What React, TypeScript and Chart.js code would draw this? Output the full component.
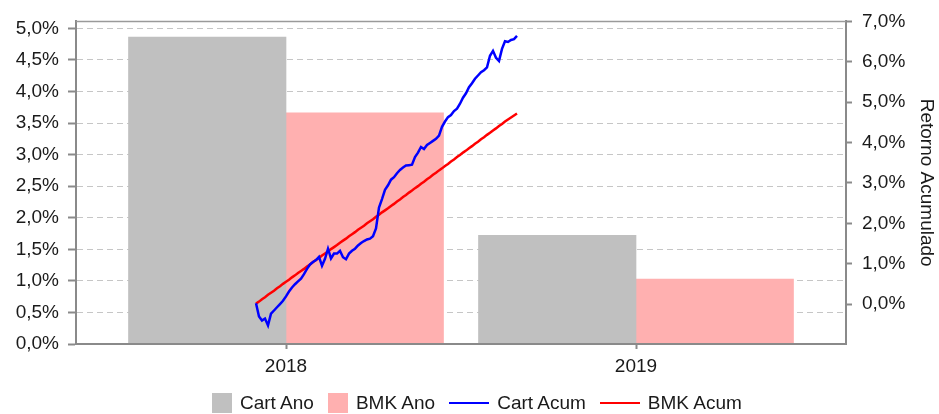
import React, { useEffect, useRef } from 'react';
import { Chart, registerables } from 'chart.js';

Chart.register(...registerables);

// ---- data ----
const years = ['2018', '2019'];
const cartAno = [4.86, 1.72];
const bmkAno = [3.66, 1.03];

const cartAcum = [
  0.02, -0.31, -0.41, -0.36, -0.53, -0.24, -0.16, -0.08, 0.0, 0.08,
  0.19, 0.31, 0.41, 0.49, 0.56, 0.63, 0.74, 0.87, 0.98, 1.04,
  1.09, 1.17, 0.95, 1.12, 1.37, 1.13, 1.25, 1.25, 1.32, 1.16,
  1.11, 1.25, 1.32, 1.37, 1.45, 1.51, 1.56, 1.6, 1.62, 1.68,
  1.87, 2.39, 2.6, 2.83, 2.94, 3.08, 3.14, 3.24, 3.32, 3.38,
  3.43, 3.44, 3.45, 3.64, 3.75, 3.89, 3.84, 3.94, 3.99, 4.04,
  4.09, 4.17, 4.39, 4.52, 4.63, 4.68, 4.78, 4.84, 4.96, 5.11,
  5.22, 5.37, 5.47, 5.58, 5.66, 5.74, 5.79, 5.86, 6.15, 6.27,
  6.1, 6.02, 6.32, 6.51, 6.49, 6.54, 6.56, 6.64,
];

const bmkAcum = [
  0.01, 0.06, 0.12, 0.17, 0.23, 0.28, 0.33, 0.39, 0.44, 0.5,
  0.55, 0.6, 0.66, 0.71, 0.77, 0.82, 0.87, 0.93, 0.98, 1.04,
  1.09, 1.14, 1.2, 1.25, 1.3, 1.36, 1.41, 1.46, 1.52, 1.57,
  1.62, 1.68, 1.73, 1.78, 1.84, 1.89, 1.94, 2.0, 2.05, 2.1,
  2.16, 2.21, 2.27, 2.32, 2.37, 2.43, 2.48, 2.54, 2.59, 2.65,
  2.7, 2.76, 2.81, 2.87, 2.92, 2.98, 3.03, 3.09, 3.14, 3.2,
  3.25, 3.31, 3.36, 3.42, 3.47, 3.53, 3.58, 3.64, 3.69, 3.75,
  3.8, 3.86, 3.91, 3.97, 4.02, 4.08, 4.13, 4.19, 4.24, 4.3,
  4.35, 4.41, 4.46, 4.52, 4.57, 4.62, 4.67, 4.72,
];

const legendLabels = ['Cart Ano', 'BMK Ano', 'Cart Acum', 'BMK Acum'];
const rightTitle = 'Retorno Acumulado';

const GRAY = '#c0c0c0';
const PINK = '#ffb0b0';
const BLUE = '#0000ff';
const RED = '#ff0000';
const AXIS = '#8a8a8a';
const FONT = "'Liberation Sans', Arial, sans-serif";
const FS = 19;

const pct = (v: number) => v.toFixed(1).replace('.', ',') + '%';

const topBorder = {
  id: 'topBorder',
  afterDraw(chart: any) {
    const { ctx, chartArea } = chart;
    ctx.save();
    ctx.strokeStyle = '#9a9a9a';
    ctx.lineWidth = 1.5;
    ctx.beginPath();
    ctx.moveTo(chartArea.left, chartArea.top);
    ctx.lineTo(chartArea.right, chartArea.top);
    ctx.stroke();
    ctx.restore();
  },
};

export default function App() {
  const ref = useRef<HTMLCanvasElement | null>(null);

  useEffect(() => {
    if (!ref.current) return;
    Chart.defaults.font.family = FONT;
    Chart.defaults.font.size = FS;
    Chart.defaults.color = '#1a1a1a';

    const chart = new Chart(ref.current, {
      type: 'bar',
      data: {
        datasets: [
          {
            type: 'line',
            label: legendLabels[2],
            data: cartAcum.map((v, i) => ({ x: i, y: v })),
            borderColor: BLUE,
            borderWidth: 2.5,
            pointRadius: 0,
            tension: 0,
            xAxisID: 'xl',
            yAxisID: 'y1',
            order: 0,
          } as any,
          {
            type: 'line',
            label: legendLabels[3],
            data: bmkAcum.map((v, i) => ({ x: i, y: v })),
            borderColor: RED,
            borderWidth: 2.5,
            pointRadius: 0,
            tension: 0,
            xAxisID: 'xl',
            yAxisID: 'y1',
            order: 1,
          } as any,
          {
            type: 'bar',
            label: legendLabels[0],
            data: cartAno.map((v, i) => ({ x: i, y: v })),
            backgroundColor: GRAY,
            xAxisID: 'x',
            yAxisID: 'y',
            barThickness: 157.5,
            order: 2,
          } as any,
          {
            type: 'bar',
            label: legendLabels[1],
            data: bmkAno.map((v, i) => ({ x: i, y: v })),
            backgroundColor: PINK,
            xAxisID: 'x',
            yAxisID: 'y',
            barThickness: 157.5,
            order: 3,
          } as any,
        ],
      },
      options: {
        animation: false,
        responsive: false,
        maintainAspectRatio: false,
        layout: { padding: { top: 15, left: 0, right: 0, bottom: 0 } },
        plugins: {
          legend: { display: false },
          tooltip: { enabled: false },
        },
        scales: {
          x: {
            type: 'linear',
            position: 'bottom',
            offset: false,
            min: -0.6,
            max: 1.6,
            afterBuildTicks: (axis: any) => {
              axis.ticks = years.map((_, i) => ({ value: i }));
            },
            afterFit: (axis: any) => {
              axis.height = 70;
            },
            ticks: {
              callback: (v: any) => years[v] ?? '',
              padding: 6,
              maxRotation: 0,
              autoSkip: false,
            },
            grid: {
              offset: false,
              drawOnChartArea: false,
              tickLength: 5,
              tickColor: AXIS,
              tickWidth: 2,
            },
            border: { color: AXIS, width: 2, z: 1 },
          },
          xl: {
            type: 'linear',
            display: false,
            offset: false,
            grid: { offset: false },
            min: -60,
            max: 196.67,
          },
          y: {
            type: 'linear',
            position: 'left',
            min: 0,
            max: 5.11,
            afterFit: (axis: any) => {
              axis.width = 76;
            },
            ticks: {
              stepSize: 0.5,
              includeBounds: false,
              padding: 9,
              callback: (v: any) => pct(Number(v)),
            },
            grid: {
              color: '#c6c6c6',
              lineWidth: 1,
              tickLength: 8,
              tickColor: AXIS,
              tickWidth: 2,
            },
            border: { color: AXIS, width: 2, dash: [6, 4], z: 1 },
          },
          y1: {
            type: 'linear',
            position: 'right',
            min: -0.99,
            max: 7,
            afterFit: (axis: any) => {
              axis.width = 93;
            },
            ticks: {
              stepSize: 1,
              includeBounds: false,
              padding: 10,
              callback: (v: any) => pct(Number(v)),
            },
            grid: {
              drawOnChartArea: false,
              tickLength: 6,
              tickColor: AXIS,
              tickWidth: 2,
            },
            border: { color: AXIS, width: 2, z: 1 },
            title: {
              display: true,
              text: rightTitle,
              padding: { top: 1, bottom: 0 },
              font: { size: FS },
            },
          },
        },
      } as any,
      plugins: [topBorder],
    });

    return () => chart.destroy();
  }, []);

  const markers = [
    { kind: 'box', color: GRAY },
    { kind: 'box', color: PINK },
    { kind: 'line', color: BLUE },
    { kind: 'line', color: RED },
  ];

  return (
    <div style={{ position: 'absolute', left: 0, top: 0, width: 939, height: 414 }}>
      <canvas ref={ref} width={939} height={414} style={{ display: 'block', width: 939, height: 414 }} />
      <div
        style={{
          position: 'absolute',
          left: 212,
          top: 393,
          height: 20,
          display: 'flex',
          alignItems: 'center',
          fontFamily: FONT,
          fontSize: FS,
          color: '#1a1a1a',
          whiteSpace: 'nowrap',
        }}
      >
        {legendLabels.map((lab, i) => (
          <div key={lab} style={{ display: 'flex', alignItems: 'center', marginRight: i < 3 ? 14 : 0 }}>
            {markers[i].kind === 'box' ? (
              <span style={{ display: 'inline-block', width: 20, height: 20, background: markers[i].color }} />
            ) : (
              <span style={{ display: 'inline-block', width: 40, height: 2.5, background: markers[i].color }} />
            )}
            <span style={{ marginLeft: 8, lineHeight: '20px' }}>{lab}</span>
          </div>
        ))}
      </div>
    </div>
  );
}
